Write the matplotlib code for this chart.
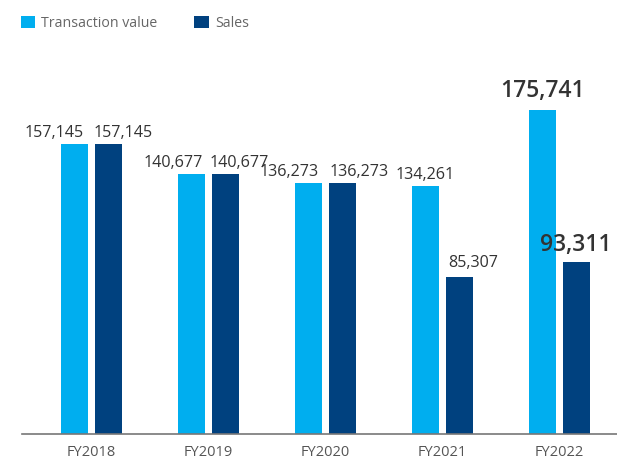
import matplotlib.pyplot as plt
import numpy as np

years = ["FY2018", "FY2019", "FY2020", "FY2021", "FY2022"]
transaction_value = [157145, 140677, 136273, 134261, 175741]
sales = [157145, 140677, 136273, 85307, 93311]

light = "#00AEEF"
dark = "#00417F"

# label nudges in pixels (x, y) so the numbers don't collide
tv_shift = [(-20, 3), (-18, 3), (-19, 3), (0, 3), (0, 7)]
sa_shift = [(15, 3), (14, 3), (17, 3), (14, 6), (-1, 5)]
big = [False, False, False, False, True]

plt.rcParams['font.family'] = ['Open Sans', 'DejaVu Sans']

fig = plt.figure(figsize=(6.17, 4.62), dpi=100)
ax = fig.add_axes([22 / 617, 28 / 462, 595 / 617, 394 / 462])

x = np.arange(len(years))
w = 0.23
off = 0.145
b1 = ax.bar(x - off, transaction_value, w, color=light, label="Transaction value")
b2 = ax.bar(x + off, sales, w, color=dark, label="Sales")

px = 72 / 100
for i in range(len(years)):
    size = 16.5 if big[i] else 11.6
    weight = "semibold" if big[i] else "normal"
    ax.annotate(f"{transaction_value[i]:,}", (x[i] - off, transaction_value[i]),
                xytext=(tv_shift[i][0] * px, tv_shift[i][1] * px), textcoords="offset points",
                ha="center", va="bottom", fontsize=size, weight=weight, color="#333333")
    ax.annotate(f"{sales[i]:,}", (x[i] + off, sales[i]),
                xytext=(sa_shift[i][0] * px, sa_shift[i][1] * px), textcoords="offset points",
                ha="center", va="bottom", fontsize=size, weight=weight, color="#333333")

ax.set_xlim(-0.59, 4.49)
ax.set_ylim(0, 213500)
ax.set_xticks(x)
ax.set_xticklabels(years, fontsize=10.5, color="#555555")
ax.set_yticks([])
for s in ["top", "right", "left"]:
    ax.spines[s].set_visible(False)
ax.spines["bottom"].set_color("#777777")
ax.spines["bottom"].set_linewidth(1.2)
ax.tick_params(axis="x", length=0, pad=8)

fig.legend(handles=[b1, b2], loc="upper left", bbox_to_anchor=(8 / 617, 1 - 3 / 462),
           ncol=2, frameon=False, fontsize=10.2, labelcolor="#666666",
           handlelength=1.0, handleheight=1.0, handletextpad=0.45, columnspacing=2.6)

fig.savefig("out.png", dpi=100)
